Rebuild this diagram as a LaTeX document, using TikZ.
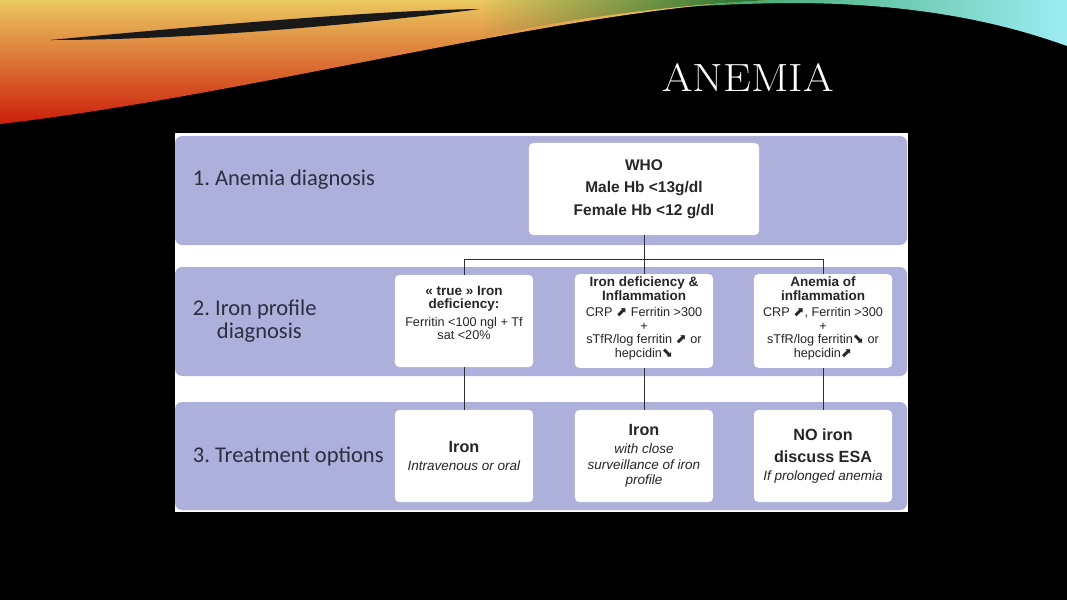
\documentclass[tikz,border=0pt]{standalone}
\usepackage{fontspec}
\newfontfamily\boxfont{Liberation Sans}
\newfontfamily\labelfont{Carlito}
\newfontfamily\symfont{DejaVu Sans}
\usetikzlibrary{fadings}
\frenchspacing

\definecolor{bandblue}{RGB}{172,176,218}
\definecolor{textgrey}{RGB}{38,38,40}
\definecolor{labelgrey}{RGB}{45,45,65}
\definecolor{linegrey}{RGB}{45,45,55}
\definecolor{warmtop}{RGB}{234,200,96}
\definecolor{warmmid}{RGB}{228,104,24}
\definecolor{warmbot}{RGB}{204,30,10}
\definecolor{coolgreen}{RGB}{30,140,60}
\definecolor{coolcyan}{RGB}{90,225,235}

\newcommand{\arrup}{{\symfont\fontsize{9.5}{8}\selectfont ⬈}}
\newcommand{\arrdn}{{\symfont\fontsize{9.5}{8}\selectfont ⬊}}
\newcommand{\boxhead}[1]{\textbf{\fontsize{9.6}{10}\selectfont #1}}

\tikzfading[name=fadegreen, left color=transparent!100, right color=transparent!0]

\begin{document}
\begin{tikzpicture}[x=0.025cm,y=-0.025cm,
  band/.style={fill=bandblue, rounded corners=5pt},
  box/.style={fill=white, rounded corners=3pt, align=center, inner sep=2pt,
    minimum width=3.45cm, minimum height=2.3cm, text=textgrey,
    font=\boxfont\fontsize{9}{9.6}\selectfont},
  treat/.style={box, font=\boxfont\fontsize{9.6}{11}\selectfont},
  conn/.style={draw=linegrey, line width=0.6pt},
  rowlabel/.style={anchor=west, align=left, text=labelgrey,
    font=\labelfont\fontsize{16}{16.5}\selectfont}]
\useasboundingbox (0,0) rectangle (1067,600);
\fill[black] (0,0) rectangle (1067,600);

% swoosh at the top
\shade[left color=coolgreen, right color=coolcyan!60!white]
  (600,0) -- (1067,0) -- (1067,46) .. controls (990,18) and (900,3) .. (790,3)
  .. controls (700,4) and (640,10) .. (600,16) -- cycle;
\shade[top color=warmtop, middle color=warmmid, bottom color=warmbot]
  (0,0) -- (770,0) .. controls (560,10) and (250,95) .. (0,124) -- cycle;
\fill[coolgreen!80!black, path fading=fadegreen]
  (480,0) -- (770,0) .. controls (660,6) and (560,20) .. (480,38) -- cycle;
\fill[black!90] (50,40) .. controls (200,26) and (380,10) .. (480,9)
  .. controls (380,22) and (200,40) .. (50,40) -- cycle;

\node[text=white, xscale=1.12, font=\fontsize{28}{30}\selectfont] (title) at (748,78) {ANEMIA};

% panel and bands
\fill[white] (175,133) rectangle (908,512);
\fill[band] (175,136) rectangle (907,245);
\fill[band] (175,267) rectangle (907,376);
\fill[band] (175,402) rectangle (907,510);

\node[rowlabel] (lab1) at (188,180) {1. Anemia diagnosis};
\node[rowlabel] (lab2) at (188,321) {2. Iron profile\\\hspace{0.6cm}diagnosis};
\node[rowlabel] (lab3) at (188,457) {3. Treatment options};

% step 1
\node[box, minimum width=5.75cm, font=\boxfont\bfseries\fontsize{11}{16}\selectfont]
  (who) at (644,189) {WHO\\Male Hb <13g/dl\\Female Hb <12 g/dl};

% step 2
\node[box] (trueid) at (464,321) {\boxhead{« true » Iron}\\\boxhead{deficiency:}\\[3pt]
  Ferritin <100 ngl + Tf\\sat <20\%\\[2pt]\mbox{}};
\node[box] (idinfl) at (644,321) {\boxhead{Iron deficiency \&}\\\boxhead{Inflammation}\\[2pt]
  CRP \arrup{} Ferritin >300\\+\\sTfR/log ferritin \arrup{} or\\hepcidin\arrdn\\[-4pt]\mbox{}};
\node[box] (ainfl) at (823,321) {\boxhead{Anemia of}\\\boxhead{inflammation}\\[2pt]
  CRP \arrup, Ferritin >300\\+\\sTfR/log ferritin\arrdn{} or\\hepcidin\arrup\\[-4pt]\mbox{}};

% step 3
\node[treat] (ivoral) at (464,456) {{\fontsize{11.5}{13}\selectfont\bfseries Iron}\\[2pt]
  \textit{Intravenous or oral}};
\node[treat] (closeiron) at (644,456) {{\fontsize{11.5}{13}\selectfont\bfseries Iron}\\[2pt]
  \textit{with close}\\\textit{surveillance of iron}\\\textit{profile}};
\node[treat] (noiron) at (823,456) {{\fontsize{11.5}{13}\selectfont\bfseries NO iron}\\[5pt]
  {\fontsize{11.5}{13}\selectfont\bfseries discuss ESA}\\[2pt]\textit{If prolonged anemia}};

% connectors
\coordinate (split) at (644,259);
\draw[conn] (who.south) -- (split);
\draw[conn] (trueid.north) -- (trueid.north |- split) -- (ainfl.north |- split) -- (ainfl.north);
\draw[conn] (split) -- (idinfl.north);
\draw[conn] (trueid.south) -- (ivoral.north);
\draw[conn] (idinfl.south) -- (closeiron.north);
\draw[conn] (ainfl.south) -- (noiron.north);
\end{tikzpicture}
\end{document}
